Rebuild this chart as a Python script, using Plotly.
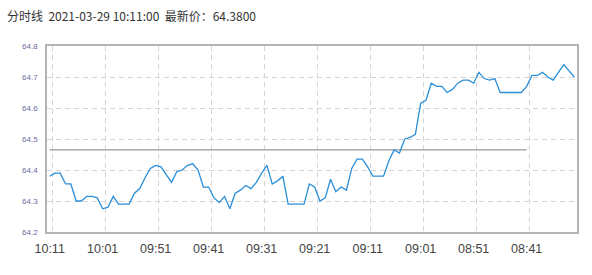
import plotly.graph_objects as go

# Categories: minutes, newest first (10:11 down to 08:32)
times = []
h, m = 10, 11
for _ in range(100):
    times.append(f"{h:02d}:{m:02d}")
    m -= 1
    if m < 0:
        m = 59
        h -= 1

prices = [
    64.38, 64.39, 64.39, 64.355, 64.355, 64.30, 64.30, 64.315, 64.315, 64.31,
    64.275, 64.28, 64.315, 64.29, 64.29, 64.29, 64.325, 64.34, 64.375, 64.405,
    64.415, 64.41, 64.385, 64.36, 64.395, 64.40, 64.415, 64.42, 64.40, 64.345,
    64.345, 64.31, 64.295, 64.315, 64.275, 64.325, 64.335, 64.35, 64.34, 64.36,
    64.39, 64.415, 64.355, 64.365, 64.38, 64.29, 64.29, 64.29, 64.29, 64.355,
    64.345, 64.30, 64.31, 64.37, 64.33, 64.345, 64.335, 64.405, 64.435, 64.435,
    64.41, 64.38, 64.38, 64.38, 64.43, 64.465, 64.455, 64.50, 64.505, 64.515,
    64.615, 64.625, 64.68, 64.67, 64.67, 64.65, 64.66, 64.68, 64.69, 64.69,
    64.68, 64.715, 64.695, 64.69, 64.695, 64.65, 64.65, 64.65, 64.65, 64.65,
    64.67, 64.705, 64.705, 64.715, 64.70, 64.69, 64.715, 64.74, 64.72, 64.70,
]

prev_close = 64.465
prev_close_count = 91

tick_labels = ["10:11", "10:01", "09:51", "09:41", "09:31",
               "09:21", "09:11", "09:01", "08:51", "08:41"]
y_ticks = [64.2, 64.3, 64.4, 64.5, 64.6, 64.7, 64.8]

title_text = "分时线  2021-03-29 10:11:00  最新价：64.3800"

idx = list(range(len(times)))
tick_idx = [times.index(t) for t in tick_labels]

fig = go.Figure()
fig.add_trace(go.Scatter(
    x=idx[:prev_close_count], y=[prev_close] * prev_close_count,
    mode="lines", line=dict(color="#999999", width=1.2),
    hoverinfo="skip", showlegend=False))
fig.add_trace(go.Scatter(
    x=idx, y=prices, mode="lines",
    line=dict(color="#2a8fd8", width=1.3),
    text=times, showlegend=False))

fig.update_layout(
    width=592, height=275,
    margin=dict(l=47, r=15, t=46, b=43),
    paper_bgcolor="white", plot_bgcolor="white",
    title=dict(text=title_text, x=7/592, xref="container", xanchor="left",
               y=1-17/275, yref="container", yanchor="middle",
               font=dict(family="Noto Sans CJK SC, Liberation Sans", size=12, color="#333333")),
    font=dict(family="Liberation Sans, Arial"),
)
fig.update_xaxes(
    range=[-0.5, len(times) - 0.5],
    tickmode="array", tickvals=tick_idx, ticktext=tick_labels,
    showgrid=False, zeroline=False,
    showline=True, mirror=True, linecolor="#b4b4b4", linewidth=1.5,
    ticks="", ticklabelstandoff=4,
    tickfont=dict(size=12.5, color="#444444"),
    minor=dict(tickmode="array", tickvals=[i + 0.5 for i in tick_idx],
               showgrid=True, gridcolor="#d4d4d4", griddash="5px,4px", gridwidth=1, ticks=""),
)
fig.update_yaxes(
    range=[64.2, 64.8],
    tickmode="array", tickvals=y_ticks, ticktext=[f"{v:.1f}" for v in y_ticks],
    showgrid=True, gridcolor="#d4d4d4", griddash="5px,4px", gridwidth=1,
    zeroline=False,
    showline=True, mirror=True, linecolor="#b4b4b4", linewidth=1.5,
    ticks="", ticklabelstandoff=6,
    tickfont=dict(size=8, color="#6a6a9e"),
)

fig.write_html("out.html")
